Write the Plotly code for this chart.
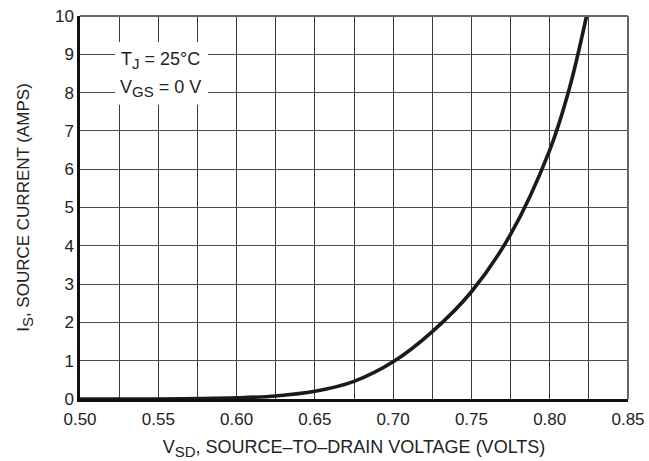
import plotly.graph_objects as go

# Source-drain diode forward characteristic, TJ = 25 °C, VGS = 0 V
v_sd = [0.500, 0.550, 0.575, 0.600, 0.625, 0.650, 0.675, 0.700, 0.725,
        0.750, 0.775, 0.800, 0.8125, 0.8235]
i_s = [0.0, 0.0, 0.01, 0.03, 0.08, 0.20, 0.46, 0.97, 1.76,
       2.80, 4.3, 6.5, 8.1, 10.0]

x_ticks = [0.50, 0.55, 0.60, 0.65, 0.70, 0.75, 0.80, 0.85]
y_ticks = list(range(0, 11))

FONT = "Liberation Sans, Arial, sans-serif"
TXT = "#222222"
GRID = "#3a3a3a"


def sub(s, size):
    return f"<sub><span style='font-size:{size}px'>{s}</span></sub>"


fig = go.Figure()
fig.add_trace(go.Scatter(
    x=v_sd, y=i_s, mode="lines",
    line=dict(color="#1a1a1a", width=3.6, shape="spline", smoothing=1.0),
    hoverinfo="skip", showlegend=False,
))

fig.update_layout(
    width=649, height=461,
    margin=dict(l=80, r=21, t=16, b=62, autoexpand=False),
    paper_bgcolor="white", plot_bgcolor="white",
    font=dict(family=FONT, size=17, color=TXT),
    showlegend=False,
)

fig.update_xaxes(
    range=[0.50, 0.85], tickvals=x_ticks,
    ticktext=[f"{v:.2f}" for v in x_ticks],
    tickfont=dict(size=17),
    ticklabelstandoff=3,
    automargin=False,
    showgrid=True, gridcolor=GRID, gridwidth=1,
    minor=dict(dtick=0.025, tick0=0.5, showgrid=True, gridcolor=GRID, gridwidth=1),
    showline=True, linecolor="#111111", linewidth=2.5,
    ticks="", ticklen=0, zeroline=False,
    title=dict(text="V" + sub("SD", 15) + ", SOURCE–TO–DRAIN VOLTAGE (VOLTS)",
               font=dict(family=FONT, size=18, color=TXT), standoff=13),
)
fig.update_yaxes(
    range=[0, 10], tickvals=y_ticks,
    tickfont=dict(size=17),
    automargin=False,
    showgrid=True, gridcolor="#4a4a4a", gridwidth=1.3,
    showline=True, linecolor="#111111", linewidth=2.5,
    ticks="", ticklen=0, zeroline=False,
    title=dict(text="I" + sub("S", 15) + ", SOURCE CURRENT (AMPS)",
               font=dict(family=FONT, size=17, color=TXT), standoff=21),
)

# Top and right frame lines
fig.add_shape(type="line", xref="x domain", yref="y domain",
              x0=0, x1=1, y0=1, y1=1, line=dict(color="#666666", width=2))
fig.add_shape(type="line", xref="x domain", yref="y domain",
              x0=1, x1=1, y0=0, y1=1, line=dict(color="#666666", width=2))

# Condition label panel
fig.add_shape(type="rect", xref="x", yref="y",
              x0=0.5224, x1=0.5818, y0=7.68, y1=9.32,
              fillcolor="white", line=dict(width=0), layer="above")
fig.add_annotation(x=0.5515, y=8.85, xref="x", yref="y",
                   text="T" + sub("J", 15) + " = 25°C", showarrow=False,
                   font=dict(family=FONT, size=18, color=TXT))
fig.add_annotation(x=0.5515, y=8.12, xref="x", yref="y",
                   text="V" + sub("GS", 15) + " = 0 V", showarrow=False,
                   font=dict(family=FONT, size=18, color=TXT))

fig.write_html("out.html")
